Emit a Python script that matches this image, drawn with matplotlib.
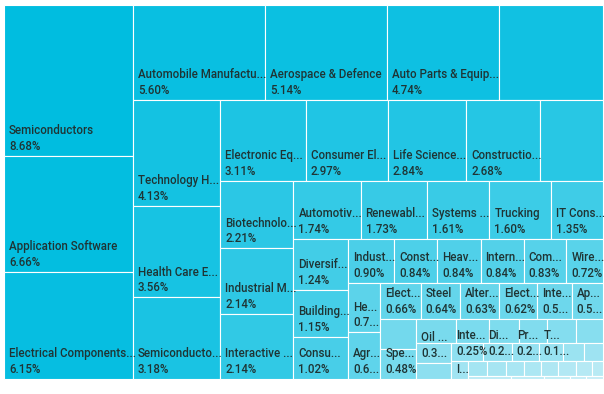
import numpy as np
import matplotlib.pyplot as plt
from matplotlib.patches import Rectangle
from matplotlib.font_manager import FontProperties

# industry weights (%), in the order the treemap lays them out;
# the labels are kept as the chart prints them (cut with "..." when the cell is small)
names = ["Semiconductors", "Application Software", "Electrical Components...",
         "Automobile Manufactu...", "Aerospace & Defence", "Auto Parts & Equip...", "",
         "Technology H...", "Health Care E...", "Semiconducto...",
         "Electronic Eq...", "Consumer El...", "Life Science...", "Constructio...", "",
         "Biotechnolo...", "Industrial M...", "Interactive ...",
         "Automotiv...", "Renewabl...", "Systems ...", "Trucking", "IT Cons...",
         "Diversif...", "Building...", "Consu...",
         "Indust...", "Const...", "Heav...", "Intern...", "Com...", "Wire...",
         "He...", "Agr...",
         "Elect...", "Steel", "Alter...", "Elect...", "Inte...", "Ap...",
         "", "Spe..."]
weights = [8.68, 6.66, 6.15,
           5.60, 5.14, 4.74, 4.41,
           4.13, 3.56, 3.18,
           3.11, 2.97, 2.84, 2.68, 2.28,
           2.21, 2.14, 2.14,
           1.74, 1.73, 1.61, 1.60, 1.35,
           1.24, 1.15, 1.02,
           0.90, 0.84, 0.84, 0.84, 0.83, 0.72,
           0.71, 0.67,
           0.66, 0.64, 0.63, 0.62, 0.56, 0.51,
           0.49, 0.48]
value_labels = ["8.68%", "6.66%", "6.15%",
                "5.60%", "5.14%", "4.74%", "",
                "4.13%", "3.56%", "3.18%",
                "3.11%", "2.97%", "2.84%", "2.68%", "",
                "2.21%", "2.14%", "2.14%",
                "1.74%", "1.73%", "1.61%", "1.60%", "1.35%",
                "1.24%", "1.15%", "1.02%",
                "0.90%", "0.84%", "0.84%", "0.84%", "0.83%", "0.72%",
                "0.7...", "0.6...",
                "0.66%", "0.64%", "0.63%", "0.62%", "0.5...", "0.5...",
                "", "0.48%"]

# the small industries in the bottom right corner
tail_names = ["", "", "", "", "", "",
              "Oil ...", "",
              "Inte...", "Di...", "Pr...", "T...", "", "",
              "I...",
              "", "", "", "", "", "", "", "",
              "", "", "", "", ""]
tail_weights = [0.43, 0.36, 0.33, 0.31, 0.31, 0.30,
                0.30, 0.25,
                0.25, 0.22, 0.21, 0.19, 0.16, 0.15,
                0.14,
                0.13, 0.13, 0.12, 0.12, 0.12, 0.12, 0.11, 0.08,
                0.05, 0.04, 0.03, 0.02, 0.02]
tail_value_labels = ["", "", "", "", "", "",
                     "0.3...", "",
                     "0.25%", "0.2...", "0.2...", "0.1...", "", "",
                     "",
                     "", "", "", "", "", "", "", "",
                     "", "", "", "", ""]

names = names + tail_names
weights = weights + tail_weights
value_labels = value_labels + tail_value_labels

# treemap box inside the picture, in pixels
X0, Y0, X1, Y1 = 4, 5, 603.3, 379

light = np.array([198, 237, 246]) / 255
dark = np.array([0, 189, 224]) / 255
text_color = "#1f3434"


def squarify(values, x, y, w, h):
    # strips alternate between a column on the left and a row on top,
    # a strip grows while the previous cell keeps getting squarer
    total = sum(values)
    areas = [v / total * w * h for v in values]
    rects = []
    state = {"x": x, "y": y, "w": w, "h": h, "dir": 0}

    def place(group):
        s = sum(group)
        if state["dir"] == 0:
            cw = s / state["h"]
            yy = state["y"]
            for a in group:
                rects.append((state["x"], yy, cw, a / cw))
                yy += a / cw
            state["x"] += cw
            state["w"] -= cw
        else:
            ch = s / state["w"]
            xx = state["x"]
            for a in group:
                rects.append((xx, state["y"], a / ch, ch))
                xx += a / ch
            state["y"] += ch
            state["h"] -= ch
        state["dir"] = 1 - state["dir"]

    def ratio(a, b):
        return max(a / b, b / a)

    group = []
    for a in areas:
        if group:
            side = state["h"] if state["dir"] == 0 else state["w"]
            last = group[-1]
            t_old = sum(group) / side
            t_new = (sum(group) + a) / side
            if ratio(t_new, last / t_new) > ratio(t_old, last / t_old):
                place(group)
                group = []
        group.append(a)
    place(group)
    return rects


fig = plt.figure(figsize=(6.04, 3.94), dpi=100)
ax = fig.add_axes([0, 0, 1, 1])
ax.set_xlim(0, 604)
ax.set_ylim(394, 0)
ax.axis('off')

rects = squarify(weights, X0, Y0, X1 - X0, Y1 - Y0)
n = len(rects)

fp = FontProperties(family="Roboto", size=8.3, weight="medium")

for i, (rx, ry, rw, rh) in enumerate(rects):
    col = dark + (light - dark) * i / (n - 1)
    ax.add_patch(Rectangle((rx, ry), rw, rh, facecolor=col,
                           edgecolor="white", linewidth=0.8))

    bottom = ry + rh
    lines = [s for s in (names[i], value_labels[i]) if s]
    # labels sit on the bottom of the cell, 16 px per line
    for k, s in enumerate(reversed(lines)):
        ax.text(rx + 5, bottom - 6 - 15.7 * k, s, fontproperties=fp,
                color=text_color, va="baseline")

fig.savefig("out.png", dpi=100, facecolor="white")
